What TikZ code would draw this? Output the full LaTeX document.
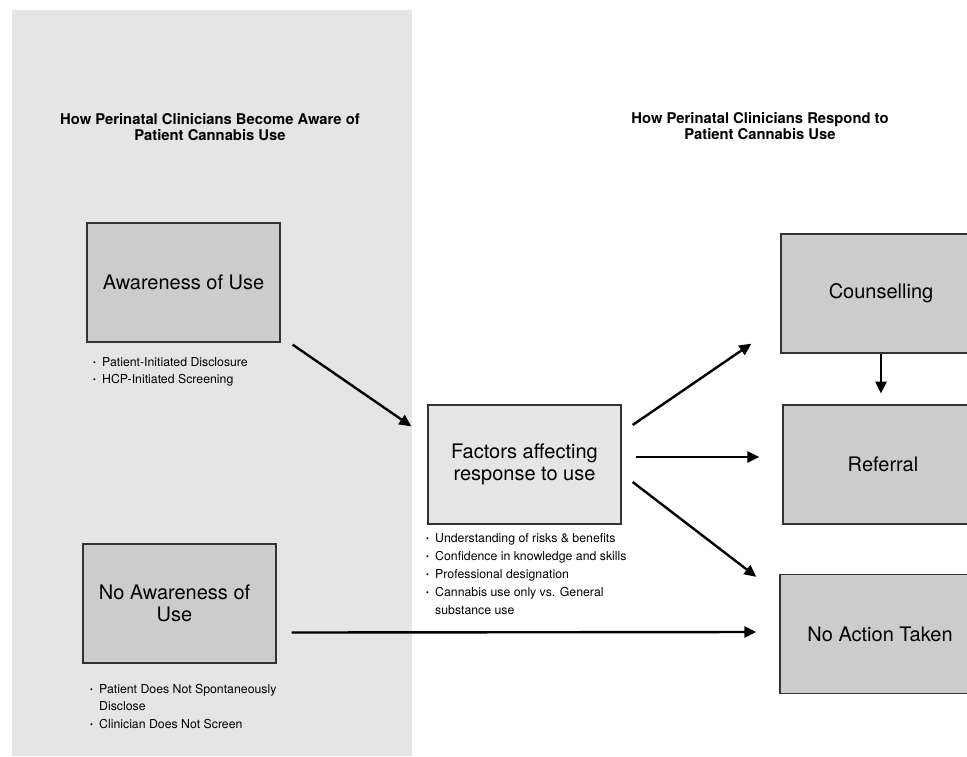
\documentclass[tikz,border=0pt]{standalone}
\usepackage{fontspec}
\setmainfont{TeX Gyre Heros}
\usetikzlibrary{arrows.meta,calc}
\definecolor{panel}{HTML}{E5E5E5}
\definecolor{boxfill}{HTML}{CCCCCC}
\definecolor{boxline}{HTML}{333333}
\newcommand\bul{\makebox[9pt][l]{\raisebox{1.0pt}{\fontsize{8}{8}\selectfont\textbullet}}}
\begin{document}
\begin{tikzpicture}[x=1pt,y=-1pt,
  box/.style={draw=boxline, line width=1.3pt, fill=boxfill, minimum width=193pt, minimum height=119pt, inner sep=0pt, align=center, font=\fontsize{20}{22}\selectfont},
  lightbox/.style={box, fill=panel},
  rbox/.style={box, minimum width=200pt},
  title/.style={align=center, inner sep=0pt, font=\fontsize{14.8}{16}\selectfont\bfseries},
  blist/.style={anchor=base west, inner sep=0pt},
  arr/.style={line width=2.4pt, -{Triangle[length=12pt,width=11pt]}}
]
\clip (0,0) rectangle (967,756);
\fill[white] (0,0) rectangle (967,756);
\fill[panel] (12,10) rectangle (412,756);

% titles
\node[title] (tl) at (210,127) {How Perinatal Clinicians Become Aware of\\Patient Cannabis Use};
\node[title] (tr) at (760,126) {How Perinatal Clinicians Respond to\\Patient Cannabis Use};

% boxes
\node[box] (aw) at (183.5,282.5) {Awareness of Use};
\node[lightbox] (fa) at (524.5,464.5) {Factors affecting\\response to use};
\node[box] (nw) at (179.5,603.5) {\hspace*{-10pt}No Awareness of\\\hspace*{-10pt}Use};
\node[rbox] (co) at (881,293.5) {Counselling};
\node[rbox] (re) at (883,464.5) {Referral};
\node[rbox] (na) at (880,634) {No Action Taken};

% bullet lists
\node[blist, font=\fontsize{12.3}{17.5}\selectfont] (awl) at (93,366)
  {\begin{tabular}[t]{@{}l@{}l@{}}
   \bul & Patient-Initiated Disclosure\\
   \bul & HCP-Initiated Screening
   \end{tabular}};
\node[blist, font=\fontsize{12.3}{18}\selectfont] (fal) at (426,542.5)
  {\begin{tabular}[t]{@{}l@{}l@{}}
   \bul & Understanding of risks \& benefits\\
   \bul & Confidence in knowledge and skills\\
   \bul & Professional designation\\
   \bul & Cannabis use only vs. General\\
        & substance use
   \end{tabular}};
\node[blist, font=\fontsize{12.3}{17.5}\selectfont] (nwl) at (90,693)
  {\begin{tabular}[t]{@{}l@{}l@{}}
   \bul & Patient Does Not Spontaneously\\
        & Disclose\\
   \bul & Clinician Does Not Screen
   \end{tabular}};

% connectors
\draw[arr] ($(aw.south east)+(12,2)$) -- ($(fa.north west)+(-16,22)$);
\draw[arr] ($(fa.east)+(11,-39.5)$) -- ($(co.south west)+(-29,-10)$);
\draw[arr] ($(fa.east)+(14,-7.5)$) -- ($(re.west)+(-23,-7.5)$);
\draw[arr] ($(fa.east)+(11,17.5)$) -- ($(na.north west)+(-23,3)$);
\draw[arr] ($(nw.east)+(15,29)$) -- ($(na.west)+(-23,-2)$);
\draw[arr] (co.south) -- ($(co.south)+(0,40)$);
\end{tikzpicture}
\end{document}
